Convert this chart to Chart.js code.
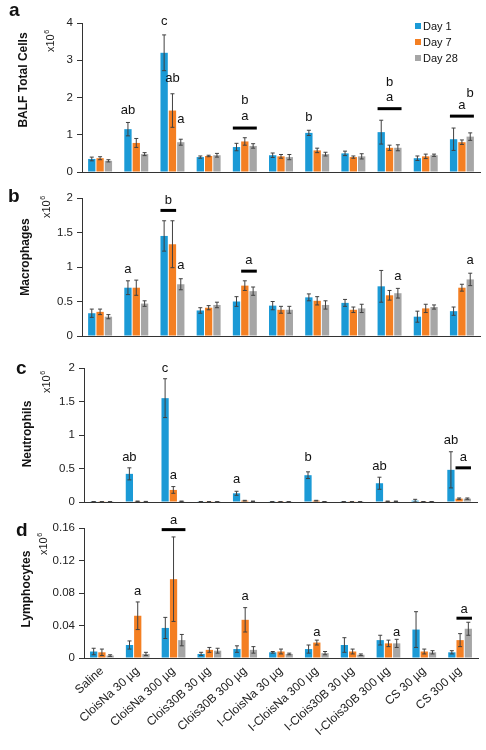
<!DOCTYPE html>
<html>
<head>
<meta charset="utf-8">
<script src="https://cdn.jsdelivr.net/npm/chart.js@4.4.0/dist/chart.umd.min.js"></script>
<style>
  html, body { margin: 0; padding: 0; background: #fff; }
  body { width: 486px; height: 750px; position: relative; overflow: hidden; }
  .panel { position: absolute; left: 0; width: 486px; }
  .panel canvas { display: block; }
</style>
</head>
<body>
<div class="panel" style="top:0;height:180px"><canvas id="chartA"></canvas></div>
<div class="panel" style="top:180px;height:160px"><canvas id="chartB"></canvas></div>
<div class="panel" style="top:340px;height:170px"><canvas id="chartC"></canvas></div>
<div class="panel" style="top:510px;height:240px"><canvas id="chartD"></canvas></div>
<script>
// Categories and series
const categories = ['Saline', 'CloisNa 30 µg', 'CloisNa 300 µg', 'Clois30B 30 µg', 'Clois30B 300 µg',
  'I-CloisNa 30 µg', 'I-CloisNa 300 µg', 'I-Clois30B 30 µg', 'I-Clois30B 300 µg', 'CS 30 µg', 'CS 300 µg'];
const seriesNames = ['Day 1', 'Day 7', 'Day 28'];
const seriesColors = ['#1b9ad6', '#f47f22', '#a6a6a6'];

// a - BALF total cells (x10^6)
const totalDay1 = [0.35, 1.15, 3.2, 0.4, 0.67, 0.45, 1.05, 0.5, 1.07, 0.37, 0.88];
const totalDay1Err = [0.05, 0.18, 0.48, 0.03, 0.1, 0.06, 0.07, 0.06, 0.32, 0.06, 0.3];
const totalDay7 = [0.37, 0.78, 1.65, 0.43, 0.82, 0.42, 0.58, 0.4, 0.65, 0.42, 0.8];
const totalDay7Err = [0.04, 0.12, 0.45, 0.02, 0.1, 0.05, 0.06, 0.03, 0.07, 0.06, 0.06];
const totalDay28 = [0.3, 0.48, 0.8, 0.45, 0.7, 0.4, 0.48, 0.42, 0.65, 0.45, 0.95];
const totalDay28Err = [0.03, 0.04, 0.08, 0.05, 0.06, 0.07, 0.05, 0.07, 0.08, 0.03, 0.1];
const totalTicks = ['0', '1', '2', '3', '4'];

// b - macrophages
const macroDay1 = [0.33, 0.7, 1.45, 0.37, 0.5, 0.44, 0.56, 0.48, 0.72, 0.28, 0.36];
const macroDay1Err = [0.06, 0.1, 0.22, 0.04, 0.07, 0.06, 0.05, 0.05, 0.23, 0.08, 0.06];
const macroDay7 = [0.35, 0.7, 1.33, 0.41, 0.73, 0.38, 0.51, 0.38, 0.59, 0.4, 0.7];
const macroDay7Err = [0.04, 0.11, 0.34, 0.03, 0.07, 0.05, 0.06, 0.04, 0.07, 0.06, 0.05];
const macroDay28 = [0.28, 0.47, 0.75, 0.45, 0.65, 0.38, 0.45, 0.4, 0.62, 0.42, 0.82];
const macroDay28Err = [0.03, 0.04, 0.08, 0.04, 0.06, 0.05, 0.06, 0.06, 0.07, 0.03, 0.09];
const macroTicks = ['0', '0.5', '1', '1.5', '2'];

// c - neutrophils
const neutDay1 = [0.005, 0.42, 1.55, 0.005, 0.13, 0.005, 0.4, 0.005, 0.28, 0.02, 0.48];
const neutDay1Err = [0.002, 0.09, 0.29, 0.002, 0.03, 0.002, 0.05, 0.002, 0.09, 0.02, 0.27];
const neutDay7 = [0.004, 0.01, 0.18, 0.004, 0.02, 0.004, 0.02, 0.004, 0.01, 0.005, 0.05];
const neutDay7Err = [0.002, 0.004, 0.05, 0.002, 0.005, 0.002, 0.005, 0.002, 0.004, 0.002, 0.01];
const neutDay28 = [0.004, 0.006, 0.01, 0.004, 0.01, 0.004, 0.005, 0.004, 0.01, 0.005, 0.05];
const neutDay28Err = [0.002, 0.003, 0.004, 0.002, 0.004, 0.002, 0.002, 0.002, 0.004, 0.002, 0.01];
const neutTicks = ['0', '0.5', '1', '1.5', '2'];

// d - lymphocytes
const lymphDay1 = [0.008, 0.016, 0.037, 0.005, 0.011, 0.007, 0.011, 0.016, 0.022, 0.035, 0.007];
const lymphDay1Err = [0.004, 0.005, 0.013, 0.002, 0.004, 0.001, 0.005, 0.009, 0.006, 0.022, 0.002];
const lymphDay7 = [0.007, 0.052, 0.097, 0.01, 0.047, 0.008, 0.019, 0.008, 0.018, 0.008, 0.022];
const lymphDay7Err = [0.004, 0.017, 0.052, 0.003, 0.015, 0.003, 0.003, 0.003, 0.004, 0.003, 0.008];
const lymphDay28 = [0.003, 0.005, 0.022, 0.009, 0.01, 0.005, 0.006, 0.004, 0.018, 0.007, 0.036];
const lymphDay28Err = [0.001, 0.002, 0.007, 0.003, 0.004, 0.001, 0.002, 0.001, 0.005, 0.002, 0.008];
const lymphTicks = ['0', '0.04', '0.08', '0.12', '0.16'];

// significance letters: [group, bar index (0..2, .5 = between), value, text]
const totalLetters = [[1, 0, 1.65, 'ab'], [2, 0, 4.05, 'c'], [2, 1, 2.5, 'ab'], [2, 2, 1.4, 'a'],
  [4, 1, 1.93, 'b'], [4, 1, 1.48, 'a'], [6, 0, 1.47, 'b'], [8, 1, 2.4, 'b'], [8, 1, 2.0, 'a'],
  [10, 1, 1.8, 'a'], [10, 2, 2.1, 'b']];
// bracket lines: [group, first bar, last bar, value]
const totalLines = [[4, 0, 2, 1.18], [8, 0, 2, 1.7], [10, 0, 2, 1.5]];
const macroLetters = [[1, 0, 0.97, 'a'], [2, 0.5, 1.96, 'b'], [2, 2, 1.02, 'a'], [4, 1.5, 1.09, 'a'],
  [8, 2, 0.87, 'a'], [10, 2, 1.09, 'a']];
const macroLines = [[2, 0, 1, 1.82], [4, 1, 2, 0.94]];
const neutLetters = [[1, 0, 0.67, 'ab'], [2, 0, 2.0, 'c'], [2, 1, 0.39, 'a'], [4, 0, 0.34, 'a'],
  [6, 0, 0.67, 'b'], [8, 0, 0.53, 'ab'], [10, 0, 0.92, 'ab'], [10, 1.5, 0.66, 'a']];
const neutLines = [[10, 1, 2, 0.51]];
const lymphLetters = [[1, 1, 0.0824, 'a'], [2, 1, 0.169, 'a'], [4, 1, 0.076, 'a'], [6, 1, 0.031, 'a'],
  [8, 2, 0.031, 'a'], [10, 1.5, 0.060, 'a']];
const lymphLines = [[2, 0, 2, 0.158], [10, 1, 2, 0.049]];

const FONT = '"Liberation Sans", Arial, sans-serif';

// Error bars, letters, brackets, axis title, panel label, x10^6 and legend
const extrasPlugin = {
  id: 'extras',
  afterDatasetsDraw(chart) {
    const ctx = chart.ctx;
    const yScale = chart.scales.y;
    const o = chart.options.plugins.extras;
    ctx.save();
    // error bars
    ctx.strokeStyle = '#404040';
    ctx.lineWidth = 1;
    chart.data.datasets.forEach((ds, di) => {
      const meta = chart.getDatasetMeta(di);
      meta.data.forEach((bar, i) => {
        const v = ds.data[i], e = ds.errors[i];
        const yTop = yScale.getPixelForValue(v + e);
        const yBot = yScale.getPixelForValue(Math.max(0, v - e));
        ctx.beginPath();
        ctx.moveTo(bar.x, yTop); ctx.lineTo(bar.x, yBot);
        ctx.moveTo(bar.x - 2, yTop); ctx.lineTo(bar.x + 2, yTop);
        ctx.moveTo(bar.x - 2, yBot); ctx.lineTo(bar.x + 2, yBot);
        ctx.stroke();
      });
    });
    const barX = (g, b) => {
      const lo = Math.floor(b), hi = Math.ceil(b);
      const xl = chart.getDatasetMeta(lo).data[g].x;
      const xh = chart.getDatasetMeta(hi).data[g].x;
      return xl + (xh - xl) * (b - lo);
    };
    // letters
    ctx.fillStyle = '#111';
    ctx.font = '13px ' + FONT;
    ctx.textAlign = 'center';
    ctx.textBaseline = 'middle';
    o.letters.forEach(([g, b, v, t]) => {
      ctx.fillText(t, barX(g, b), yScale.getPixelForValue(v));
    });
    // bracket lines
    ctx.strokeStyle = '#000';
    ctx.lineWidth = 3;
    o.lines.forEach(([g, b0, b1, v]) => {
      const e0 = chart.getDatasetMeta(b0).data[g];
      const e1 = chart.getDatasetMeta(b1).data[g];
      const y = yScale.getPixelForValue(v);
      ctx.beginPath();
      ctx.moveTo(e0.x - e0.width / 2, y);
      ctx.lineTo(e1.x + e1.width / 2, y);
      ctx.stroke();
    });
    const area = chart.chartArea;
    // y axis title
    ctx.save();
    ctx.translate(o.titleX, o.titleY);
    ctx.rotate(-Math.PI / 2);
    ctx.font = 'bold 12px ' + FONT;
    ctx.textAlign = 'center';
    ctx.textBaseline = 'middle';
    ctx.fillText(o.title, 0, 0);
    ctx.restore();
    // panel letter
    ctx.font = 'bold 19px ' + FONT;
    ctx.textAlign = 'left';
    ctx.textBaseline = 'alphabetic';
    ctx.fillText(o.panel, o.panelX, o.panelY);
    // x10^6
    ctx.save();
    ctx.translate(area.left - o.expDx, area.top + o.expDy);
    ctx.rotate(-Math.PI / 2);
    ctx.font = '11px ' + FONT;
    ctx.textBaseline = 'middle';
    ctx.fillStyle = '#222';
    ctx.fillText('x10', 0, 0);
    const w = ctx.measureText('x10').width;
    ctx.font = '7px ' + FONT;
    ctx.fillText('6', w + 0.5, -4);
    ctx.restore();
    // legend
    if (o.legend) {
      ctx.font = '11px ' + FONT;
      ctx.textBaseline = 'middle';
      chart.data.datasets.forEach((ds, di) => {
        const y = area.top + 3 + di * 16;
        ctx.fillStyle = ds.backgroundColor;
        ctx.fillRect(area.right - 65, y - 3, 6, 6);
        ctx.fillStyle = '#111';
        ctx.fillText(ds.label, area.right - 57, y + 0.5);
      });
    }
    ctx.restore();
  }
};

function makePanel(id, cfg) {
  const values = [cfg.d1, cfg.d7, cfg.d28];
  const errs = [cfg.e1, cfg.e7, cfg.e28];
  return new Chart(document.getElementById(id), {
    type: 'bar',
    data: {
      labels: categories,
      datasets: seriesNames.map((name, i) => ({
        label: name,
        data: values[i],
        errors: errs[i],
        backgroundColor: seriesColors[i],
        borderWidth: 0,
        barPercentage: 0.88,
        categoryPercentage: 0.69
      }))
    },
    plugins: [extrasPlugin],
    options: {
      responsive: true,
      maintainAspectRatio: false,
      animation: false,
      layout: { padding: { left: 0, right: 486 - cfg.right, top: cfg.top, bottom: 0 } },
      plugins: {
        legend: { display: false },
        tooltip: { enabled: false },
        extras: {
          letters: cfg.letters, lines: cfg.lines, legend: !!cfg.legend,
          title: cfg.title, titleX: cfg.titleX, titleY: cfg.titleY,
          panel: cfg.panel, panelX: cfg.panelX, panelY: cfg.panelY,
          expDx: cfg.expDx, expDy: cfg.expDy
        }
      },
      scales: {
        x: {
          grid: { drawOnChartArea: false, drawTicks: false },
          border: { display: true, color: '#333', width: 1 },
          ticks: {
            display: !!cfg.showX,
            autoSkip: false,
            minRotation: 42,
            maxRotation: 42,
            padding: 6,
            color: '#222',
            font: { family: FONT, size: 12 }
          },
          afterFit(scale) {
            scale.height = cfg.xHeight;
            scale.paddingLeft = 0; scale.paddingRight = 0;
          }
        },
        y: {
          min: 0,
          max: cfg.max,
          grid: { drawOnChartArea: false, drawTicks: true, tickLength: 5, color: '#333' },
          border: { display: true, color: '#333', width: 1 },
          ticks: {
            stepSize: cfg.max / 4,
            padding: 4,
            color: '#222',
            font: { family: FONT, size: 11.5 },
            callback: (v, i) => cfg.ticks[i]
          },
          afterFit(scale) {
            scale.width = cfg.left;
            scale.paddingTop = 0; scale.paddingBottom = 0;
          }
        }
      }
    }
  });
}

makePanel('chartA', {
  d1: totalDay1, d7: totalDay7, d28: totalDay28, e1: totalDay1Err, e7: totalDay7Err, e28: totalDay28Err,
  ticks: totalTicks, max: 4, title: 'BALF Total Cells', letters: totalLetters, lines: totalLines,
  legend: true, panel: 'a', panelX: 9, panelY: 16, left: 82, right: 480, top: 23, xHeight: 8,
  titleX: 23.5, titleY: 80, expDx: 31, expDy: 29
});
makePanel('chartB', {
  d1: macroDay1, d7: macroDay7, d28: macroDay28, e1: macroDay1Err, e7: macroDay7Err, e28: macroDay28Err,
  ticks: macroTicks, max: 2, title: 'Macrophages', letters: macroLetters, lines: macroLines,
  panel: 'b', panelX: 8, panelY: 22, left: 82, right: 480, top: 18, xHeight: 4,
  titleX: 25.5, titleY: 77, expDx: 35, expDy: 20
});
makePanel('chartC', {
  d1: neutDay1, d7: neutDay7, d28: neutDay28, e1: neutDay1Err, e7: neutDay7Err, e28: neutDay28Err,
  ticks: neutTicks, max: 2, title: 'Neutrophils', letters: neutLetters, lines: neutLines,
  panel: 'c', panelX: 16, panelY: 34, left: 84, right: 477, top: 28, xHeight: 8,
  titleX: 28, titleY: 94, expDx: 37, expDy: 25
});
makePanel('chartD', {
  d1: lymphDay1, d7: lymphDay7, d28: lymphDay28, e1: lymphDay1Err, e7: lymphDay7Err, e28: lymphDay28Err,
  ticks: lymphTicks, max: 0.16, title: 'Lymphocytes', letters: lymphLetters, lines: lymphLines,
  panel: 'd', panelX: 16, panelY: 26, left: 84, right: 478, top: 18, xHeight: 92, showX: true,
  titleX: 27, titleY: 79, expDx: 40, expDy: 27
});
</script>
</body>
</html>
